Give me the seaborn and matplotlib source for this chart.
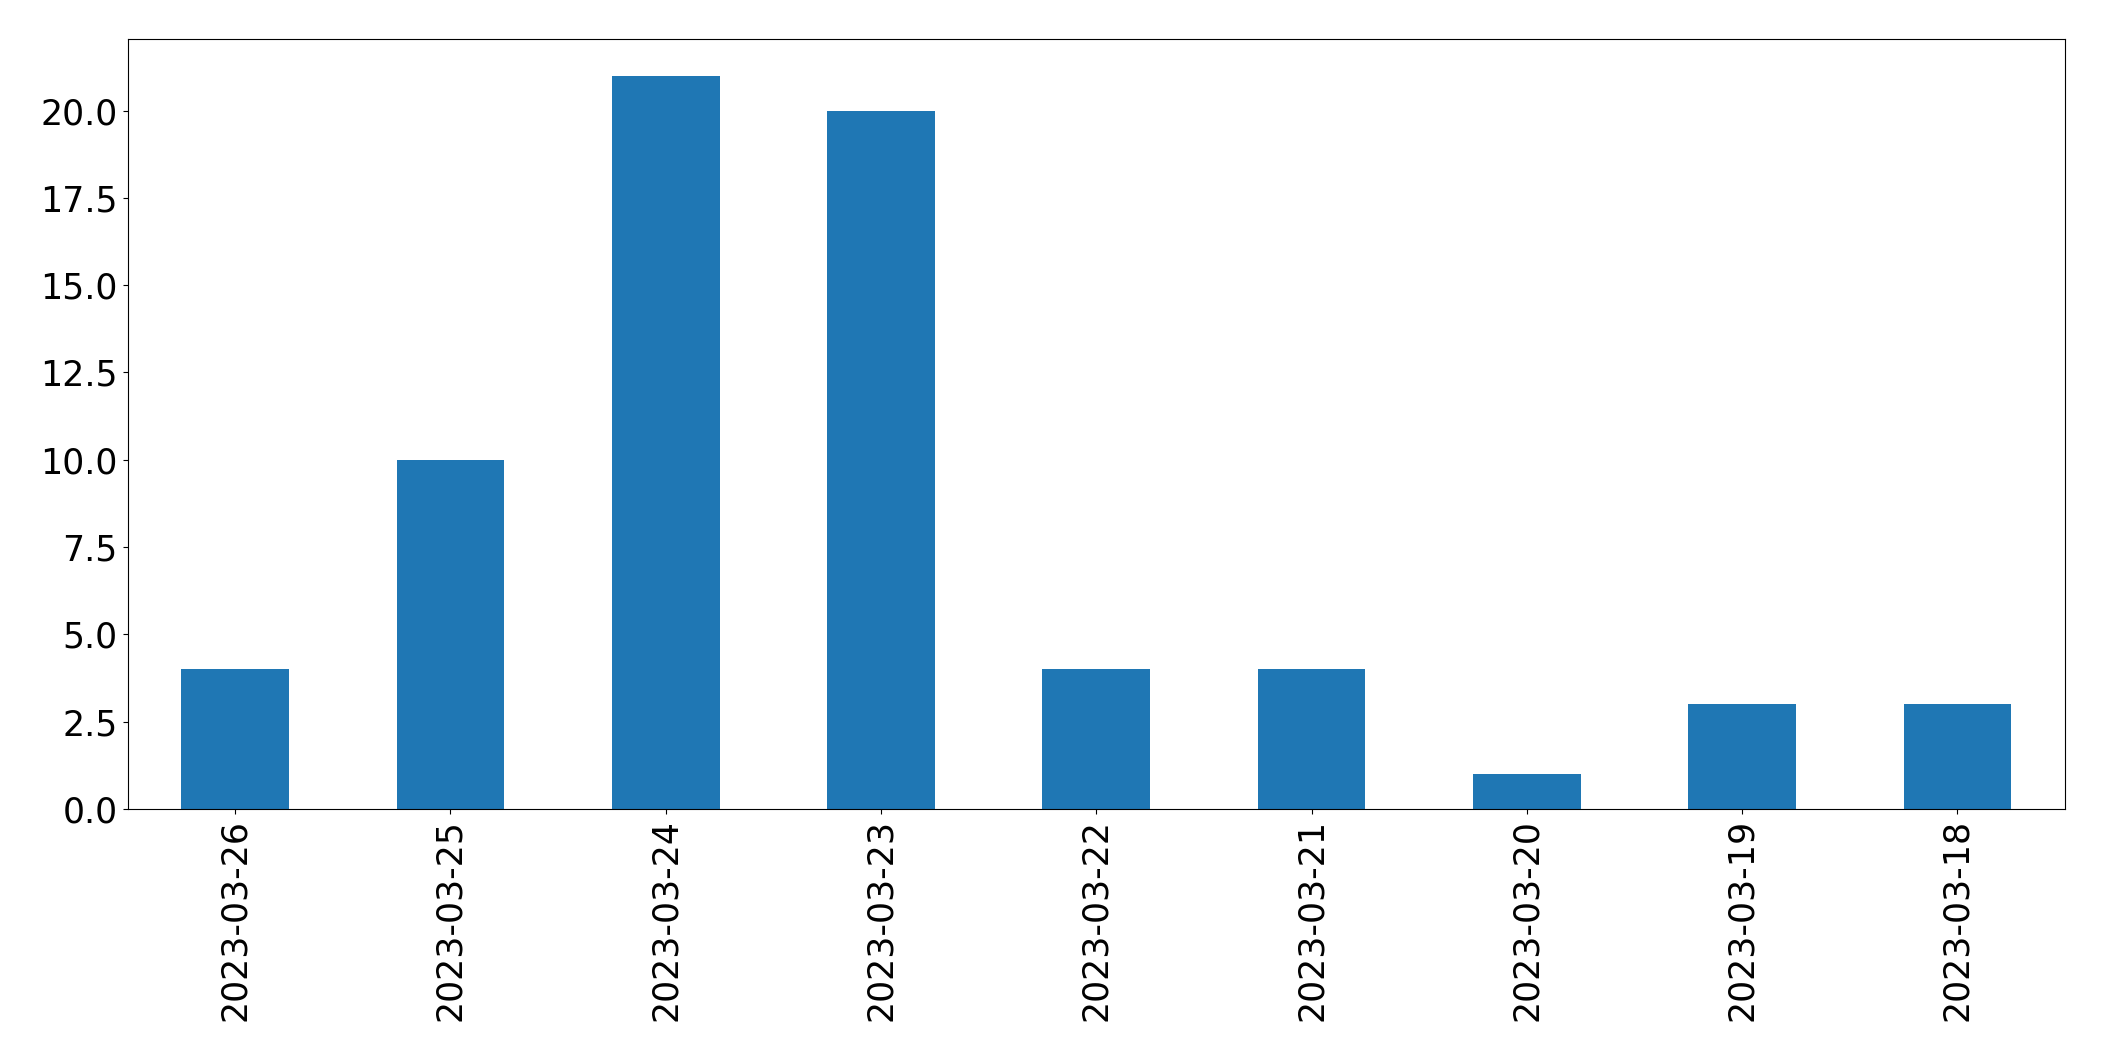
import pandas as pd
import matplotlib
matplotlib.use("Agg")
import matplotlib.pyplot as plt
import seaborn as sns

# data
dates = ["2023-03-26", "2023-03-25", "2023-03-24", "2023-03-23", "2023-03-22",
         "2023-03-21", "2023-03-20", "2023-03-19", "2023-03-18"]
counts = [4, 10, 21, 20, 4, 4, 1, 3, 3]

df = pd.DataFrame({"date": dates, "count": counts})

fig = plt.figure(figsize=(21.04, 10.61), dpi=100)
ax = fig.add_axes([127.5 / 2104, 1 - 809 / 1061, (2065 - 127.5) / 2104, (809 - 39) / 1061])

sns.barplot(data=df, x="date", y="count", color="#1f77b4", saturation=1,
            width=0.5, ax=ax, order=dates)

ax.set_xlim(-0.5, 8.5)
ax.set_ylim(0, 22.05)
ax.set_xlabel("")
ax.set_ylabel("")
ax.tick_params(axis="both", labelsize=25)
ax.tick_params(axis="x", labelrotation=90)
ax.yaxis.set_major_formatter(matplotlib.ticker.FormatStrFormatter("%.1f"))

fig.savefig("out.png", dpi=100)
plt.close()
